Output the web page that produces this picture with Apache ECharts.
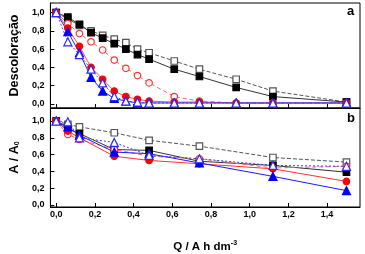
<!DOCTYPE html>
<html>
<head>
<meta charset="utf-8">
<script src="https://cdn.jsdelivr.net/npm/echarts@6/dist/echarts.min.js"></script>
<style>
  html, body { margin: 0; padding: 0; background: #fff; }
  #chart { width: 365px; height: 254px; }
</style>
</head>
<body>
<div id="chart"></div>
<script>
// panel a: descoloração vs carga
const qTop = [0, 0.06, 0.12, 0.18, 0.24, 0.30, 0.36, 0.42, 0.48, 0.61, 0.74, 0.93, 1.12, 1.50]
const sqFilledTop = [1.0, 0.95, 0.87, 0.78, 0.72, 0.66, 0.60, 0.54, 0.49, 0.38, 0.30, 0.18, 0.08, 0.02]
const sqOpenTop = [1.0, 0.93, 0.86, 0.80, 0.75, 0.71, 0.67, 0.60, 0.56, 0.47, 0.38, 0.27, 0.14, 0.02]
const circOpenTop = [1.0, 0.88, 0.77, 0.68, 0.59, 0.48, 0.39, 0.31, 0.23, 0.08, 0.03, 0.01, 0.01, 0.01]
const circFilledTop = [1.0, 0.83, 0.63, 0.40, 0.27, 0.14, 0.08, 0.05, 0.03, 0.02, 0.02, 0.01, 0.01, 0.01]
const triOpenTop = [1.0, 0.68, 0.54, 0.38, 0.23, 0.08, 0.03, 0.02, 0.01, 0.01, 0.01, 0.01, 0.01, 0.01]
const triFilledTop = [1.0, 0.79, 0.56, 0.29, 0.14, 0.06, 0.03, 0.01, 0.01, 0.01, 0.01, 0.01, 0.01, 0.01]

// panel b: A / A0
const qBot = [0, 0.06, 0.12, 0.30, 0.48, 0.74, 1.12, 1.50]
const sqFilledBot = [1.0, 0.91, 0.85, 0.66, 0.65, 0.52, 0.47, 0.39]
const sqOpenBot = [1.0, 0.96, 0.93, 0.86, 0.77, 0.70, 0.565, 0.51]
const circFilledBot = [1.0, 0.88, 0.80, 0.58, 0.53, 0.49, 0.43, 0.28]
const circOpenBot = [1.0, 0.84, 0.78, 0.66, 0.58, 0.55, 0.44, 0.46]
const triFilledBot = [1.0, 0.93, 0.83, 0.63, 0.61, 0.50, 0.34, 0.17]
const triOpenBot = [1.0, 0.99, 0.80, 0.745, 0.59, 0.55, 0.47, 0.46]

const xTicks = [0, 0.2, 0.4, 0.6, 0.8, 1.0, 1.2, 1.4]
const yTicks = [0, 0.2, 0.4, 0.6, 0.8, 1.0]

const FONT = 'Liberation Sans, Arial, sans-serif'
const fmt = v => Number(v).toFixed(1).replace('.', ',')
const pairs = (xs, ys) => xs.map((x, i) => [x, ys[i]])

const chart = echarts.init(document.getElementById('chart'), null, { renderer: 'canvas' })

function xAxisFor(gridIndex, withLabels) {
  return {
    type: 'value',
    gridIndex,
    min: -0.03,
    max: 1.57,
    axisLine: { show: true, onZero: false, lineStyle: { color: '#000', width: 1 } },
    axisTick: { show: true, inside: true, length: 4, customValues: xTicks, lineStyle: { color: '#000' } },
    axisLabel: {
      show: withLabels,
      customValues: xTicks,
      formatter: fmt,
      color: '#000',
      fontFamily: FONT,
      fontWeight: 'bold',
      fontSize: 9,
      margin: 3
    },
    splitLine: { show: false },
    name: withLabels ? '{b|Q / A h dm}{s|-3}' : '',
    nameLocation: 'middle',
    nameGap: 33,
    nameTextStyle: {
      rich: {
        b: { fontFamily: FONT, fontWeight: 'bold', fontSize: 11.5, color: '#000' },
        s: { fontFamily: FONT, fontWeight: 'bold', fontSize: 7, color: '#000', verticalAlign: 'top', padding: [0, 0, 7, 0] }
      }
    }
  }
}

function yAxisFor(gridIndex, min, max, name) {
  return {
    type: 'value',
    gridIndex,
    min,
    max,
    axisLine: { show: true, onZero: false, lineStyle: { color: '#000', width: 1 } },
    axisTick: { show: true, inside: true, length: 4, customValues: yTicks, lineStyle: { color: '#000' } },
    axisLabel: {
      customValues: yTicks,
      formatter: fmt,
      color: '#000',
      fontFamily: FONT,
      fontWeight: 'bold',
      fontSize: 9,
      margin: 6
    },
    splitLine: { show: false },
    name,
    nameLocation: 'middle',
    nameGap: 29,
    nameRotate: 90,
    nameTextStyle: {
      fontFamily: FONT,
      fontWeight: 'bold',
      fontSize: 12.5,
      color: '#000',
      rich: {
        b: { fontFamily: FONT, fontWeight: 'bold', fontSize: 12.5, color: '#000' },
        s: { fontFamily: FONT, fontWeight: 'bold', fontSize: 7, color: '#000', verticalAlign: 'bottom', padding: [6, 0, 0, 0] }
      }
    }
  }
}

function series(name, gi, xs, ys, symbol, color, filled, lineType, lineColor) {
  return {
    name,
    type: 'line',
    xAxisIndex: gi,
    yAxisIndex: gi,
    data: pairs(xs, ys),
    symbol,
    symbolSize: symbol === 'triangle' ? 8 : 6.5,
    showSymbol: true,
    lineStyle: { color: lineColor || color, width: 1, type: lineType },
    itemStyle: {
      color: filled ? color : '#fff',
      borderColor: color,
      borderWidth: 1.2
    },
    emphasis: { disabled: true },
    animation: false
  }
}

chart.setOption({
  backgroundColor: '#fff',
  animation: false,
  grid: [
    { left: 40, right: 5, top: 3, height: 105, show: true, borderColor: '#000', borderWidth: 1 },
    { left: 40, right: 5, top: 108, height: 104.5, show: true, borderColor: '#000', borderWidth: 1 }
  ],
  xAxis: [xAxisFor(0, false), xAxisFor(1, true)],
  yAxis: [
    yAxisFor(0, -0.045, 1.105, 'Descoloração'),
    yAxisFor(1, -0.025, 1.155, '{b|A / A}{s|0}')
  ],
  graphic: [
    { type: 'text', left: 347, top: 5, style: { text: 'a', font: 'bold 13px ' + FONT, fill: '#000' } },
    { type: 'text', left: 347, top: 112, style: { text: 'b', font: 'bold 13px ' + FONT, fill: '#000' } }
  ],
  series: [
    series('sqOpenTop', 0, qTop, sqOpenTop, 'rect', '#555', false, [4, 2], '#555'),
    series('sqFilledTop', 0, qTop, sqFilledTop, 'rect', '#000', true, 'solid', '#333'),
    series('circOpenTop', 0, qTop, circOpenTop, 'circle', '#ff3030', false, [4, 3], '#ff6060'),
    series('circFilledTop', 0, qTop, circFilledTop, 'circle', '#ff0000', true, 'solid', '#ff5050'),
    series('triFilledTop', 0, qTop, triFilledTop, 'triangle', '#0000ff', true, 'solid', '#2020ff'),
    series('triOpenTop', 0, qTop, triOpenTop, 'triangle', '#2a2aff', false, [2, 2], '#4a4aff'),

    series('sqOpenBot', 1, qBot, sqOpenBot, 'rect', '#555', false, [4, 2], '#555'),
    series('sqFilledBot', 1, qBot, sqFilledBot, 'rect', '#000', true, 'solid', '#333'),
    series('circOpenBot', 1, qBot, circOpenBot, 'circle', '#ff3030', false, [4, 3], '#ff6060'),
    series('circFilledBot', 1, qBot, circFilledBot, 'circle', '#ff0000', true, 'solid', '#ff3030'),
    series('triFilledBot', 1, qBot, triFilledBot, 'triangle', '#0000ff', true, 'solid', '#1a1aff'),
    series('triOpenBot', 1, qBot, triOpenBot, 'triangle', '#2a2aff', false, [2, 2], '#3a3aff')
  ]
})
</script>
</body>
</html>
